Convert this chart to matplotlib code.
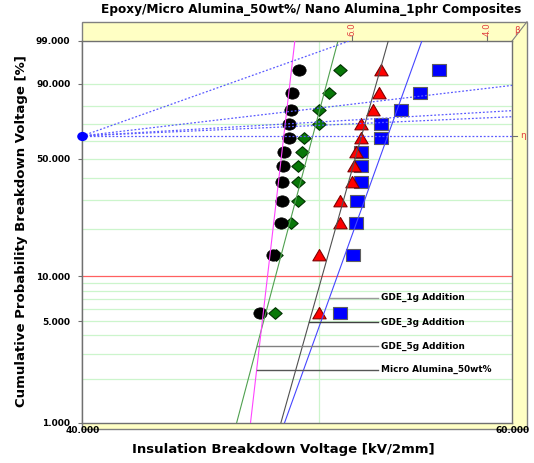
import numpy as np
import matplotlib
matplotlib.use("Agg")
import matplotlib.pyplot as plt
from matplotlib.patches import Rectangle
from matplotlib.lines import Line2D
from matplotlib.path import Path
import matplotlib.ticker as ticker
import matplotlib.transforms as mtransforms

# unreliability (Bernard median ranks, n = 12) in percent
ranks = [5.65, 13.71, 21.77, 29.84, 37.90, 45.97, 54.03, 62.10, 70.16, 78.23, 86.29, 94.35]

# breakdown voltages [kV/2mm]
micro = [47.3, 47.9, 48.25, 48.3, 48.3, 48.35, 48.4, 48.6, 48.6, 48.7, 48.75, 49.05]
gde5 = [47.95, 48.0, 48.7, 49.0, 49.0, 49.0, 49.2, 49.3, 50.0, 50.0, 50.5, 51.0]
gde3 = [50.0, 50.0, 51.0, 51.0, 51.6, 51.7, 51.8, 52.0, 52.0, 52.6, 52.9, 53.0]
gde1 = [51.0, 51.65, 51.8, 51.85, 52.0, 52.0, 52.0, 53.0, 53.0, 54.0, 55.0, 56.0]

# fitted weibull lines (beta, eta)
fit_beta = {"micro": 146.6, "gde5": 64.1, "gde3": 60.5, "gde1": 47.3}
fit_eta = {"micro": 48.37, "gde5": 49.71, "gde3": 52.05, "gde1": 53.35}

# slopes of the dotted lines on the beta scale
beta_lines = [6.05, 2.0, 1.0, 0.76, 0.0]
beta_ticks = [6.0, 4.0]

labels = ["GDE_1g Addition", "GDE_3g Addition", "GDE_5g Addition", "Micro Alumina_50wt%"]
label_fit = ["gde1", "gde3", "gde5", "micro"]
label_level = [7.2, 4.9, 3.37, 2.32]

grid_levels = [2, 3, 4, 5, 6, 7, 8, 9, 20, 30, 40, 50, 60, 70, 80, 90]
y_ticks = [1, 5, 10, 50, 90, 99]
x_ticks = [40, 60]


def fwd(p):
    p = np.clip(np.asarray(p, dtype=float), 1e-9, 100 - 1e-9)
    return np.log(-np.log(1 - p / 100.0))


def inv(w):
    return 100.0 * (1 - np.exp(-np.exp(w)))


def fit_x(name, p):
    b, e = fit_beta[name], fit_eta[name]
    return e * (-np.log(1 - np.asarray(p) / 100.0)) ** (1.0 / b)


W, H = 534, 463
fig = plt.figure(figsize=(W / 100, H / 100), dpi=100)
fig.patch.set_facecolor("white")

# yellow beta frame
fig.add_artist(Rectangle((82.3 / W, 1 - 429 / H), (527 - 82.3) / W, (429 - 21.7) / H,
                         transform=fig.transFigure, facecolor="#ffffc4",
                         edgecolor="#808080", lw=1, zorder=0))
fig.add_artist(Line2D([512.3 / W, 527 / W], [1 - 40.7 / H, 1 - 21.7 / H],
                      transform=fig.transFigure, color="#808080", lw=0.8, zorder=0.5))

ax = fig.add_axes([82.3 / W, (H - 422.7) / H, 430 / W, 382 / H])
ax.set_zorder(1)
ax.set_facecolor("white")
ax.set_xscale("log")
ax.set_yscale("function", functions=(fwd, inv))
ax.set_xlim(40, 60)
ax.set_ylim(1, 99)

for g in grid_levels:
    ax.axhline(g, color="#ccf5cc", lw=0.9, zorder=0.5)
ax.axhline(10, color="#ff6060", lw=0.9, zorder=0.6)
ax.axvline(50, color="#ccf5cc", lw=0.9, zorder=0.5)


def marker_path(verts):
    return Path(verts + [verts[0]], [Path.MOVETO] + [Path.LINETO] * (len(verts) - 1) + [Path.CLOSEPOLY])


ellipse = Path(Path.unit_circle().vertices * np.array([1.0, 0.85]), Path.unit_circle().codes)
square = marker_path([(-1, -0.87), (1, -0.87), (1, 0.87), (-1, 0.87)])
diamond = marker_path([(-1, 0), (0, 0.87), (1, 0), (0, -0.87)])
triangle = marker_path([(-1, -0.8), (1, -0.8), (0, 0.9)])

ms = 9.6
ax.plot(gde1, ranks, ls="none", marker=square, ms=ms, mfc="#0000ff", mec="#606060", mew=0.8, zorder=3)
ax.plot(gde3, ranks, ls="none", marker=triangle, ms=ms, mfc="#ff0000", mec="#800000", mew=0.8, zorder=3.1)
ax.plot(gde5, ranks, ls="none", marker=diamond, ms=ms, mfc="#087808", mec="#003000", mew=0.8, zorder=3.2)
ax.plot(micro, ranks, ls="none", marker=ellipse, ms=ms, mfc="black", mec="black", mew=0.5, zorder=3.3)

# fit lines
fit_colors = {"micro": "#ff44ff", "gde5": "#4fa04f", "gde3": "#505050", "gde1": "#4646ff"}
pp = np.linspace(0.5, 99.5, 60)
for name in ["gde1", "gde3", "gde5", "micro"]:
    ax.plot(fit_x(name, pp), pp, color=fit_colors[name], lw=0.8, zorder=4)

# beta lines from the focal point
w_top = fwd(99)
eta_level = inv(0.0)
for b in beta_lines:
    if b > 0 and 40 * np.exp(w_top / b) <= 60:
        xe, ye = 40 * np.exp(w_top / b), 99
    else:
        xe, ye = 60, inv(b * np.log(60 / 40))
    ax.plot([40, xe], [eta_level, ye], color="#5a5aff", lw=0.9, ls=(0, (1.5, 1.5)), zorder=4.2)
ax.plot([40], [eta_level], ls="none", marker=ellipse, ms=6.6, mfc="#0000ff", mec="#0000ff",
        clip_on=False, zorder=5)

# beta scale ticks on top
trans_top = mtransforms.blended_transform_factory(ax.transData, ax.transAxes)
for b in beta_ticks:
    xb = 40 * np.exp(w_top / b)
    ax.plot([xb, xb], [1.0, 1.011], color="#707070", lw=0.8, transform=trans_top, clip_on=False)
    ax.text(xb, 1.013, f"{b:.1f}", rotation=90, color="#e04040", fontsize=6.3,
            ha="center", va="bottom", transform=trans_top)
ax.text(1.0035, 1.026, "\u03b2", color="#e04040", fontsize=6.5, ha="left", va="center",
        transform=ax.transAxes)
trans_right = mtransforms.blended_transform_factory(ax.transAxes, ax.transData)
ax.plot([1.0, 1.011], [eta_level, eta_level], color="#707070", lw=0.8, transform=trans_right, clip_on=False)
ax.text(1.019, eta_level, "\u03b7", color="#e04040", fontsize=6.5, ha="left", va="center",
        transform=trans_right)

# labels with leaders
lead_colors = ["#9a9a9a", "#404040", "#808080", "#555555"]
for lab, name, lev, lc in zip(labels, label_fit, label_level, lead_colors):
    x0 = float(fit_x(name, lev))
    ax.plot([x0, 52.86], [lev, lev], color=lc, lw=1.0, zorder=4.5)
    ax.text(52.99, lev, lab, fontsize=6.4, fontweight="bold", ha="left", va="center", zorder=5)

# axes styling
for s in ax.spines.values():
    s.set_color("#707070")
    s.set_linewidth(1.0)
ax.set_yticks(y_ticks)
ax.yaxis.set_major_formatter(ticker.FormatStrFormatter("%.3f"))
ax.yaxis.set_minor_locator(ticker.NullLocator())
ax.set_xticks(x_ticks)
ax.xaxis.set_major_formatter(ticker.FormatStrFormatter("%.3f"))
ax.xaxis.set_minor_locator(ticker.NullLocator())
ax.tick_params(axis="y", length=3, width=0.8, color="#707070", pad=5.5, labelsize=6.5)
ax.tick_params(axis="x", length=0, pad=2.5, labelsize=6.5)
for t in ax.get_xticklabels() + ax.get_yticklabels():
    t.set_fontweight("bold")

fig.text(311 / W, 1 - 9.5 / H, "Epoxy/Micro Alumina_50wt%/ Nano Alumina_1phr Composites",
         fontsize=8.7, fontweight="bold", ha="center", va="center")
fig.text(21.5 / W, 1 - 231 / H, "Cumulative Probability Breakdown Voltage [%]",
         fontsize=9.5, fontweight="bold", rotation=90, ha="center", va="center")
fig.text(283.5 / W, 1 - 450 / H, "Insulation Breakdown Voltage [kV/2mm]",
         fontsize=9.5, fontweight="bold", ha="center", va="center")

fig.savefig("out.png", dpi=100)
